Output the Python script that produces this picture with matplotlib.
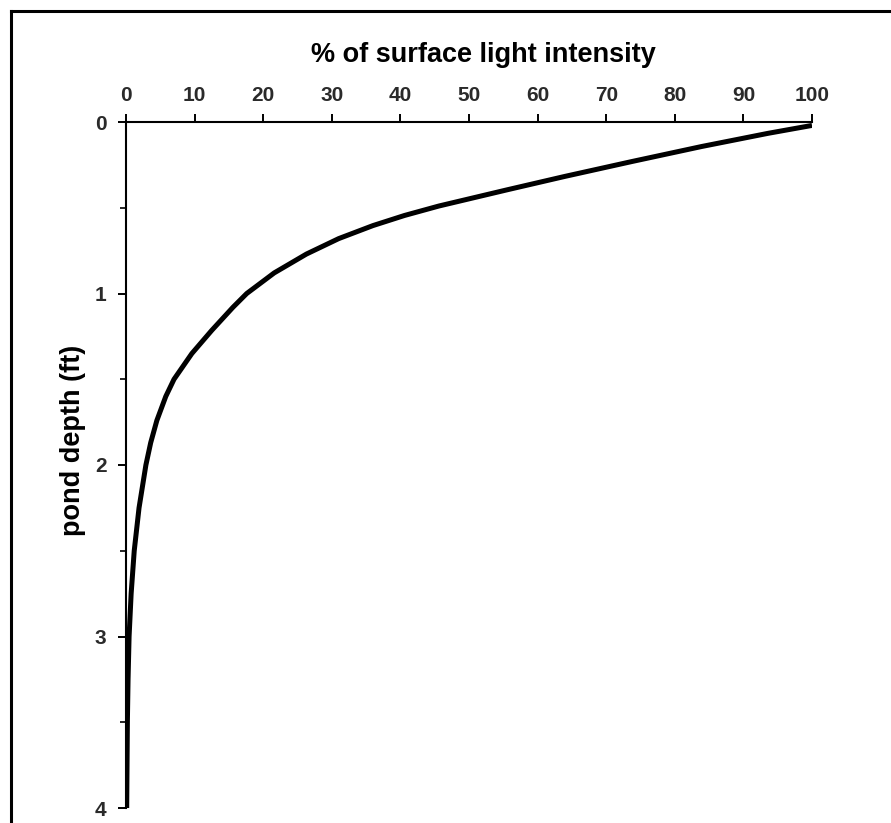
import numpy as np
import matplotlib
matplotlib.use("Agg")
import matplotlib.pyplot as plt
from matplotlib.lines import Line2D
from matplotlib.ticker import MultipleLocator

plt.rcParams['font.family'] = ['Liberation Sans', 'DejaVu Sans']

# values
depth = [0.02, 0.066, 0.143, 0.23, 0.317, 0.395, 0.49, 0.545, 0.604, 0.68, 0.77,
         0.88, 1.0, 1.08, 1.215, 1.35, 1.5, 1.6, 1.74, 1.87, 2.0, 2.25, 2.5, 2.75,
         3.0, 3.25, 3.5, 3.75, 4.0]
intensity = [100, 93.6, 83.9, 73.8, 64.0, 55.6, 45.6, 40.6, 36.0, 31.0, 26.3,
             21.6, 17.6, 15.6, 12.5, 9.6, 7.0, 5.8, 4.5, 3.6, 2.9, 1.9, 1.2, 0.75,
             0.45, 0.3, 0.2, 0.15, 0.1]

xticks = list(range(0, 101, 10))
yticks = [0, 1, 2, 3, 4]

fig = plt.figure(figsize=(8.91, 8.23), dpi=100)
ax = fig.add_axes([126 / 891, 1 - 808 / 823, (812 - 126) / 891, (808 - 122) / 823])

ax.plot(intensity, depth, color='black', lw=3.6, solid_capstyle='butt',
        solid_joinstyle='round')

ax.set_xlim(0, 100)
ax.set_ylim(4, 0)
ax.xaxis.tick_top()
ax.set_xticks(xticks)
ax.set_yticks(yticks)
ax.yaxis.set_minor_locator(MultipleLocator(0.5))

for s in ['right', 'bottom']:
    ax.spines[s].set_visible(False)
for s in ['top', 'left']:
    ax.spines[s].set_linewidth(1.5)

ax.tick_params(axis='both', which='major', length=6, width=1.4, labelsize=15,
               labelcolor='#2a2a2a', pad=6)
ax.tick_params(axis='y', which='major', pad=8)
ax.tick_params(axis='y', which='minor', length=4, width=1.2)
for lab in ax.get_xticklabels() + ax.get_yticklabels():
    lab.set_fontweight('bold')

fig.text(483 / 891, 1 - 55 / 823, '% of surface light intensity', fontsize=19.5,
         fontweight='bold', ha='center', va='center')
fig.text(73 / 891, 1 - 440 / 823, 'pond depth (ft)', fontsize=19.5,
         fontweight='bold', ha='center', va='center', rotation=90)

# outer frame (only left and top edges visible in the reference)
fig.add_artist(Line2D([11 / 891, 11 / 891], [0, 1 - 11 / 823], color='black', lw=2.2,
                      transform=fig.transFigure))
fig.add_artist(Line2D([11 / 891, 1], [1 - 11 / 823, 1 - 11 / 823], color='black', lw=2.2,
                      transform=fig.transFigure))

fig.savefig('out.png', dpi=100)
